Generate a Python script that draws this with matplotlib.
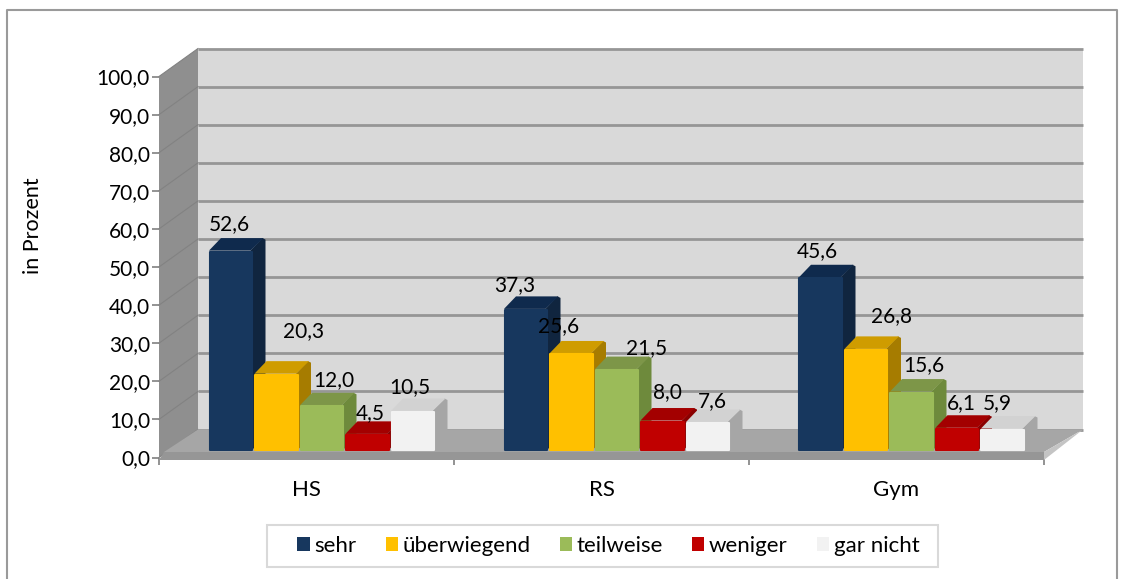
import matplotlib
matplotlib.use("Agg")
import matplotlib.pyplot as plt
from matplotlib.patches import Patch, Polygon, Rectangle

categories = ['HS', 'RS', 'Gym']
series = ['sehr', 'überwiegend', 'teilweise', 'weniger', 'gar nicht']
sehr = [52.6, 37.3, 45.6]
ueberwiegend = [20.3, 25.6, 26.8]
teilweise = [12.0, 21.5, 15.6]
weniger = [4.5, 8.0, 6.1]
gar_nicht = [10.5, 7.6, 5.9]
y_ticks = [0, 10, 20, 30, 40, 50, 60, 70, 80, 90, 100]

values = [sehr, ueberwiegend, teilweise, weniger, gar_nicht]
front_colors = ['#17375e', '#ffc000', '#9bbb59', '#c00000', '#f2f2f2']
side_colors = ['#10253f', '#a67c00', '#6e8a3c', '#8a0000', '#a6a6a6']
top_colors = ['#0f2a4d', '#cf9c00', '#7d9648', '#a30000', '#d2d2d2']

# label offsets from the bar's front top centre, in pixels (right, up)
label_offsets = [
    [(-1, 27), (-11, 24), (-3, 26)],
    [(27, 43), (-13, 27), (25, 33)],
    [(12, 25), (30, 21), (12, 26)],
    [(3, 21), (5, 28), (4, 25)],
    [(-3, 24), (5, 21), (-5, 25)],
]

W, H = 1134, 579
PX_X = 295.0    # pixels per category
PX_Y = 3.81     # pixels per percent
WALL_DX, WALL_DY = 39, 28
BAR_DX, BAR_DY = 13, 12.5
BASE = 6.5 / PX_Y
BAR_W = 45.5 / PX_X
GROUP_START = 49 / PX_X

plt.rcParams['font.family'] = ['Lato', 'DejaVu Sans']

fig = plt.figure(figsize=(W / 100, H / 100), dpi=100)
fig.patch.set_facecolor('white')
ax = fig.add_axes([159 / W, 1 - 457.5 / H, 885 / W, 381 / H])
ax.set_xlim(0, 3)
ax.set_ylim(0, 100)
ax.patch.set_alpha(0)
for s in ax.spines.values():
    s.set_visible(False)


def shift(x, y, dx=0, dy=0):
    # move a data point by a depth offset given in pixels
    return (x + dx / PX_X, y + dy / PX_Y)


def poly(points, color, z):
    ax.add_patch(Polygon(points, closed=True, facecolor=color, edgecolor='none',
                         zorder=z, clip_on=False))


# outer frame, open at the bottom
fig.add_artist(plt.Line2D([7 / W, 7 / W, 1117 / W, 1117 / W], [0, 1 - 10 / H, 1 - 10 / H, 0],
                          color='#9a9a9a', lw=1.5))

# back wall and side wall
poly([shift(0, 0, WALL_DX, WALL_DY), shift(3, 0, WALL_DX, WALL_DY),
      shift(3, 100, WALL_DX, WALL_DY), shift(0, 100, WALL_DX, WALL_DY)], '#d9d9d9', 1)
poly([shift(0, 0), shift(0, 0, WALL_DX, WALL_DY),
      shift(0, 100, WALL_DX, WALL_DY), shift(0, 100)], '#8f8f8f', 1)
for t in y_ticks:
    a, b = shift(0, t, WALL_DX, WALL_DY), shift(3, t, WALL_DX, WALL_DY)
    ax.plot([a[0], b[0]], [a[1], b[1]], color='#969696', lw=2, zorder=2, clip_on=False,
            solid_capstyle='butt')
    c = shift(0, t)
    ax.plot([c[0], a[0]], [c[1], a[1]], color='#828282', lw=0.8, zorder=2, clip_on=False)

# floor
poly([shift(0, 0, 5, 5.5), shift(0, 0, WALL_DX, WALL_DY),
      shift(3, 0, WALL_DX, WALL_DY), shift(3, 0, 0, 5.5)], '#a6a6a6', 3)
poly([shift(0, 0, 0, -2.5), shift(0, 0, 5, 5.5), shift(3, 0, 0, 5.5), shift(3, 0, 0, -2.5)],
     '#969696', 3)
poly([shift(3, 0, 0, -2.5), shift(3, 0, 0, 5.5), shift(3, 0, WALL_DX, WALL_DY)], '#c4c4c4', 3)

# bars: the right neighbour covers the side face of the bar before it
for j in range(len(series)):
    z = 10 + j * 0.1
    xs = [i + GROUP_START + j * BAR_W + BAR_W / 2 for i in range(len(categories))]
    ax.bar(xs, [v - 2 / PX_Y for v in values[j]], width=BAR_W - 3 / PX_X, bottom=BASE + 1 / PX_Y,
           color=front_colors[j], edgecolor=front_colors[j], linewidth=1.5, joinstyle='round',
           zorder=z + 0.05, clip_on=False)
    for k, x in enumerate(xs):
        left, right = x - BAR_W / 2, x + BAR_W / 2 - 1 / PX_X
        top = BASE + values[j][k]
        poly([(right - 2 / PX_X, BASE), shift(right, BASE, BAR_DX, BAR_DY),
              shift(right, top, BAR_DX, BAR_DY - 1.5), shift(right - 2 / PX_X, top, BAR_DX - 1, BAR_DY),
              (right - 2 / PX_X, top)], side_colors[j], z)
        poly([(left + 1 / PX_X, top), shift(left, top, BAR_DX, BAR_DY),
              shift(right - 2 / PX_X, top, BAR_DX, BAR_DY), (right - 2 / PX_X, top)], top_colors[j], z)
        off = label_offsets[j][k]
        ax.annotate(f'{values[j][k]:.1f}'.replace('.', ','), (x, values[j][k] + BASE),
                    xytext=off, textcoords='offset pixels', ha='center', va='center',
                    fontsize=15, color='black', zorder=20, annotation_clip=False)

# axes ticks
ax.set_yticks(y_ticks)
ax.set_yticklabels([f'{t:.1f}'.replace('.', ',') for t in y_ticks], fontsize=15)
ax.set_xticks([0, 1, 2, 3])
ax.set_xticklabels([])
ax.set_xticks([0.5, 1.5, 2.5], minor=True)
ax.set_xticklabels(categories, minor=True, fontsize=16)
ax.tick_params(axis='y', length=5, width=1.2, color='#808080', pad=1.5)
ax.tick_params(axis='x', which='major', length=5, width=1.2, color='#808080')
ax.tick_params(axis='x', which='minor', length=0, pad=16.5)
fig.text(33 / W, 1 - 226 / H, 'in Prozent', rotation=90, ha='center', va='center', fontsize=15.5)

# legend, its box drawn separately because it is wider than the entries need
fig.add_artist(Rectangle((267 / W, 1 - 567 / H), 671 / W, 42 / H, transform=fig.transFigure,
                         facecolor='white', edgecolor='#d9d9d9', lw=1.5))
handles = [Patch(facecolor=c, edgecolor='none') for c in front_colors]
leg = fig.legend(handles, series, ncol=5, loc='center', bbox_to_anchor=(608.5 / W, 1 - 546 / H),
                 fontsize=16, frameon=False,
                 handlelength=0.55, handleheight=0.55, handletextpad=0.22, columnspacing=1.3,
                 borderpad=0, borderaxespad=0)

fig.savefig('out.png', dpi=100)
